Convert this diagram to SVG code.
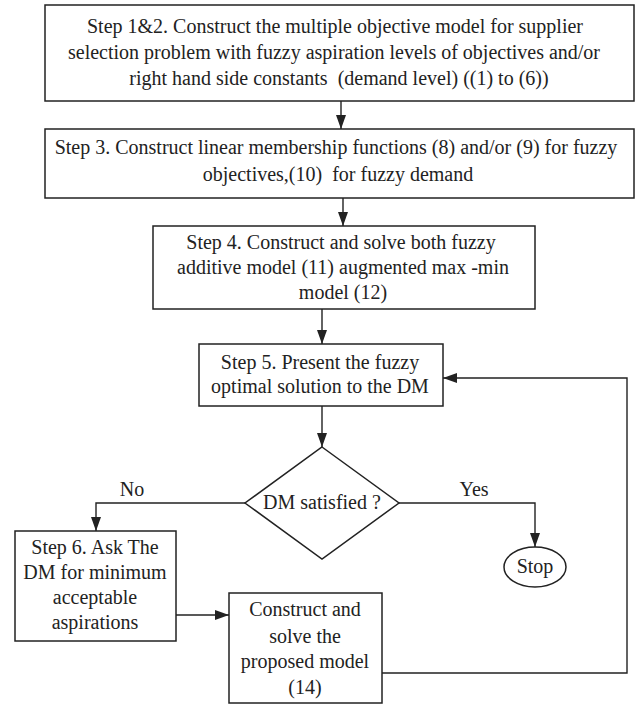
<svg xmlns="http://www.w3.org/2000/svg" width="635" height="704" viewBox="0 0 635 704">
<style>
.box{fill:#fff;stroke:#222;stroke-width:1.5}
.t{font-family:"Liberation Serif","Times New Roman",serif;font-size:20px;fill:#222;text-anchor:middle;white-space:pre}
.c{fill:none;stroke:#222;stroke-width:1.4}
</style>
<defs>
<marker id="ah" markerWidth="14" markerHeight="10" refX="14" refY="5" orient="auto" markerUnits="userSpaceOnUse">
<path d="M0,0 L14,5 L0,10 Z" fill="#222"/>
</marker>
</defs>
<rect width="635" height="704" fill="#fff"/>
<g id="step12">
<rect class="box" x="45" y="5" width="589" height="96"/>
<text class="t" x="335" y="33">Step 1&amp;2. Construct the multiple objective model for supplier</text>
<text class="t" x="334" y="59">selection problem with fuzzy aspiration levels of objectives and/or</text>
<text class="t" x="339" y="85">right hand side constants  (demand level) ((1) to (6))</text>
</g>
<g id="step3">
<rect class="box" x="45" y="129" width="589" height="69"/>
<text class="t" x="336" y="154">Step 3. Construct linear membership functions (8) and/or (9) for fuzzy</text>
<text class="t" x="338" y="181">objectives,(10)  for fuzzy demand</text>
</g>
<g id="step4">
<rect class="box" x="153" y="226" width="382" height="83"/>
<text class="t" x="341" y="249">Step 4. Construct and solve both fuzzy</text>
<text class="t" x="343" y="274">additive model (11) augmented max -min</text>
<text class="t" x="343" y="299">model (12)</text>
</g>
<g id="step5">
<rect class="box" x="199" y="344" width="244" height="62"/>
<text class="t" x="320" y="369">Step 5. Present the fuzzy</text>
<text class="t" x="320" y="393">optimal solution to the DM</text>
</g>
<g id="decision">
<polygon class="box" points="322,447 399,503 322,559 245,503"/>
<text class="t" x="322" y="509">DM satisfied ?</text>
</g>
<g id="stop">
<ellipse class="box" cx="535" cy="567" rx="31" ry="20"/>
<text class="t" x="535" y="573">Stop</text>
</g>
<g id="step6">
<rect class="box" x="15" y="531" width="161" height="110"/>
<text class="t" x="95" y="554">Step 6. Ask The</text>
<text class="t" x="95" y="579">DM for minimum</text>
<text class="t" x="95" y="604">acceptable</text>
<text class="t" x="95" y="629">aspirations</text>
</g>
<g id="proposed">
<rect class="box" x="229" y="593" width="153" height="110"/>
<text class="t" x="305" y="616">Construct and</text>
<text class="t" x="305" y="643">solve the</text>
<text class="t" x="305" y="668">proposed model</text>
<text class="t" x="305" y="694">(14)</text>
</g>
<g id="connectors">
<line class="c" x1="341" y1="101" x2="341" y2="129" marker-end="url(#ah)"/>
<line class="c" x1="343" y1="198" x2="343" y2="226" marker-end="url(#ah)"/>
<line class="c" x1="322" y1="309" x2="322" y2="344" marker-end="url(#ah)"/>
<line class="c" x1="322" y1="406" x2="322" y2="447" marker-end="url(#ah)"/>
<polyline class="c" points="245,503 96,503 96,531" marker-end="url(#ah)"/>
<polyline class="c" points="399,503 535,503 535,547" marker-end="url(#ah)"/>
<line class="c" x1="176" y1="615" x2="229" y2="615" marker-end="url(#ah)"/>
<polyline class="c" points="382,673 627,673 627,378 443,378" marker-end="url(#ah)"/>
<text class="t" x="132" y="496">No</text>
<text class="t" x="474" y="496">Yes</text>
</g>
</svg>
